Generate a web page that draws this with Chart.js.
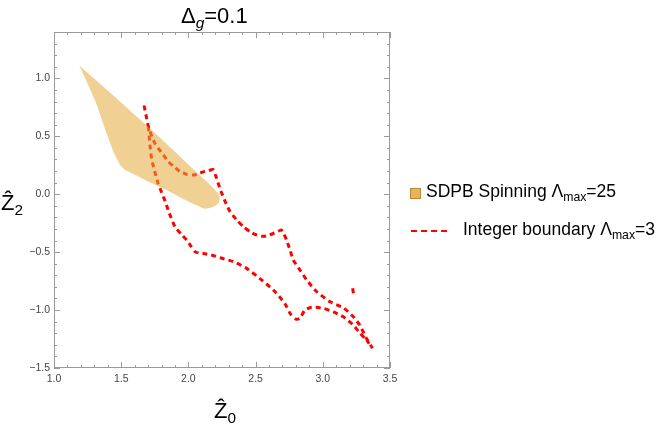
<!DOCTYPE html>
<html>
<head>
<meta charset="utf-8">
<script src="https://cdn.jsdelivr.net/npm/chart.js@4.4.0/dist/chart.umd.min.js"></script>
<style>
  body { margin: 0; background: #fff; }
  #wrap { position: relative; width: 664px; height: 425px; font-family: "Liberation Sans", Arial, sans-serif; }
  #myChart { position: absolute; left: 0; top: 0; }
  .lbl { position: absolute; white-space: nowrap; line-height: 1; color: #000; }
  .sub { font-size: 0.7em; position: relative; top: 0.35em; }
</style>
</head>
<body>
<div id="wrap">
  <canvas id="myChart" width="664" height="425"></canvas>
  <div class="lbl" style="left:181px; top:5px; font-size:22px;">&Delta;<span class="sub"><i>g</i></span>=0.1</div>
  <div class="lbl" style="left:1px; top:192px; font-size:22px;">&#x1E90;<span class="sub">2</span></div>
  <div class="lbl" style="left:214px; top:400px; font-size:22px;">&#x1E90;<span class="sub">0</span></div>
  <div class="lbl" style="left:426px; top:183px; font-size:17.5px;">SDPB Spinning &Lambda;<span class="sub">max</span>=25</div>
  <div class="lbl" style="left:463px; top:221px; font-size:17.5px;">Integer boundary &Lambda;<span class="sub">max</span>=3</div>
</div>
<script>
const sampleChart = document.getElementById('myChart');

// allowed region from SDPB (outline, clockwise from the top tip)
const regionZ0 = [1.188, 1.40, 1.60, 1.739, 1.90, 2.05, 2.15, 2.20, 2.225, 2.235, 2.225, 2.20, 2.16, 2.12,
    2.05, 1.95, 1.863, 1.70, 1.58, 1.528, 1.491, 1.441, 1.38, 1.318, 1.243, 1.188];
const regionZ2 = [1.110, 0.895, 0.686, 0.541, 0.366, 0.200, 0.095, 0.035, 0.005, -0.035, -0.075, -0.102, -0.120, -0.125,
    -0.090, -0.035, 0.022, 0.110, 0.180, 0.210, 0.253, 0.368, 0.560, 0.772, 0.973, 1.110];

// integer boundary, upper branch
const upperZ0 = [1.670, 1.685, 1.702, 1.750, 1.800, 1.850, 1.900, 1.938, 1.990, 2.040, 2.080, 2.111, 2.150, 2.185,
    2.200, 2.223, 2.248, 2.280, 2.310, 2.359, 2.409, 2.460, 2.508, 2.545, 2.580, 2.640, 2.692, 2.705, 2.730, 2.756,
    2.780, 2.830, 2.880, 2.955, 3.054, 3.153, 3.227, 3.275, 3.325, 3.370];
const upperZ2 = [0.766, 0.680, 0.584, 0.440, 0.360, 0.282, 0.230, 0.195, 0.170, 0.165, 0.180, 0.193, 0.205, 0.212,
    0.170, 0.090, 0.009, -0.080, -0.150, -0.222, -0.280, -0.325, -0.352, -0.362, -0.360, -0.335, -0.309, -0.330, -0.395, -0.481,
    -0.568, -0.654, -0.740, -0.842, -0.928, -0.980, -1.058, -1.130, -1.245, -1.330];

// integer boundary, lower branch
const lowerZ0 = [1.702, 1.714, 1.727, 1.749, 1.775, 1.801, 1.830, 1.858, 1.900, 1.950, 1.987, 2.020, 2.049, 2.080,
    2.111, 2.170, 2.235, 2.334, 2.433, 2.530, 2.632, 2.717, 2.760, 2.800, 2.830, 2.866, 2.917, 3.004, 3.078, 3.153,
    3.227, 3.277, 3.326, 3.345];
const lowerZ2 = [0.584, 0.426, 0.300, 0.200, 0.090, 0.015, -0.070, -0.164, -0.280, -0.350, -0.395, -0.450, -0.496, -0.508,
    -0.512, -0.525, -0.548, -0.582, -0.640, -0.726, -0.827, -0.942, -1.035, -1.078, -1.072, -1.000, -0.975, -0.985, -1.015, -1.058,
    -1.130, -1.200, -1.260, -1.290];

// small stray piece
const dotZ0 = [3.222, 3.228];
const dotZ2 = [-0.812, -0.855];

const xTicks = [1.0, 1.5, 2.0, 2.5, 3.0, 3.5];
const yTicks = [-1.5, -1.0, -0.5, 0.0, 0.5, 1.0];

const toPoints = (xs, ys) => xs.map((v, i) => ({ x: v, y: ys[i] }));
const fmt = v => (v < 0 ? '\u2212' : '') + Math.abs(v).toFixed(1);

const regionColor = 'rgba(230, 170, 60, 0.55)';
const boundaryColor = '#ff0000';

const boundaryStyle = {
    borderColor: boundaryColor,
    borderWidth: 3,
    borderDash: [5, 4],
    borderCapStyle: 'butt',
    fill: false,
    pointRadius: 0,
    tension: 0.2,
};

const data = {
    datasets: [{
        label: 'SDPB Spinning',
        data: toPoints(regionZ0, regionZ2),
        backgroundColor: regionColor,
        borderWidth: 0,
        fill: 'shape',
        pointRadius: 0,
        tension: 0,
    }, {
        label: 'Integer boundary upper',
        data: toPoints(upperZ0, upperZ2),
        ...boundaryStyle,
    }, {
        label: 'Integer boundary lower',
        data: toPoints(lowerZ0, lowerZ2),
        ...boundaryStyle,
    }, {
        label: 'Integer boundary dot',
        data: toPoints(dotZ0, dotZ2),
        ...boundaryStyle,
        borderDash: [],
    }, ],
};

// Mathematica style frame with inward ticks on all sides
const frameTicks = {
    id: 'frameTicks',
    beforeDatasetsDraw(chart) {
        const { ctx, chartArea: a, scales: { x, y } } = chart;
        ctx.save();
        ctx.strokeStyle = '#9a9a9a';
        ctx.lineWidth = 1;
        ctx.strokeRect(a.left + 0.5, a.top + 0.5, a.right - a.left - 1, a.bottom - a.top - 1);
        ctx.beginPath();
        for (let k = 10; k <= 35; k++) {
            const px = Math.round(x.getPixelForValue(k / 10)) + 0.5;
            const len = k % 5 === 0 ? 6 : 3;
            ctx.moveTo(px, a.bottom);
            ctx.lineTo(px, a.bottom - len);
            ctx.moveTo(px, a.top);
            ctx.lineTo(px, a.top + len);
        }
        for (let k = -15; k <= 14; k++) {
            const py = Math.round(y.getPixelForValue(k / 10)) + 0.5;
            const len = k % 5 === 0 ? 6 : 3;
            ctx.moveTo(a.left, py);
            ctx.lineTo(a.left + len, py);
            ctx.moveTo(a.right, py);
            ctx.lineTo(a.right - len, py);
        }
        ctx.stroke();
        ctx.restore();
    },
    afterDraw(chart) {
        const ctx = chart.ctx;
        ctx.save();
        ctx.fillStyle = '#e8b454';
        ctx.strokeStyle = '#b8893c';
        ctx.lineWidth = 1;
        ctx.fillRect(410, 188, 11, 11);
        ctx.strokeRect(410.5, 188.5, 10, 10);
        ctx.strokeStyle = boundaryColor;
        ctx.lineWidth = 2;
        ctx.setLineDash([6, 4]);
        ctx.beginPath();
        ctx.moveTo(411, 231);
        ctx.lineTo(451, 231);
        ctx.stroke();
        ctx.restore();
    },
};

const config = {
    type: 'line',
    data: data,
    options: {
        responsive: false,
        animation: false,
        devicePixelRatio: 1,
        layout: { padding: { left: 0, right: 274, top: 32, bottom: 0 } },
        plugins: {
            legend: { display: false },
            tooltip: { enabled: false },
        },
        scales: {
            x: {
                type: 'linear',
                min: 1.0,
                max: 3.5,
                grid: { display: false, drawTicks: false },
                border: { display: false },
                afterBuildTicks: s => { s.ticks = xTicks.map(v => ({ value: v })); },
                afterFit: s => { s.height = 57; },
                ticks: {
                    padding: 5,
                    maxRotation: 0,
                    color: '#444',
                    font: { family: 'Liberation Sans', size: 10.5 },
                    callback: fmt,
                },
            },
            y: {
                type: 'linear',
                min: -1.5,
                max: 1.4,
                grid: { display: false, drawTicks: false },
                border: { display: false },
                afterBuildTicks: s => { s.ticks = yTicks.map(v => ({ value: v })); },
                afterFit: s => { s.width = 54; },
                ticks: {
                    padding: 4,
                    color: '#444',
                    font: { family: 'Liberation Sans', size: 10.5 },
                    callback: fmt,
                },
            },
        },
    },
    plugins: [frameTicks],
};

const myChart = new Chart(sampleChart, config);
</script>
</body>
</html>
